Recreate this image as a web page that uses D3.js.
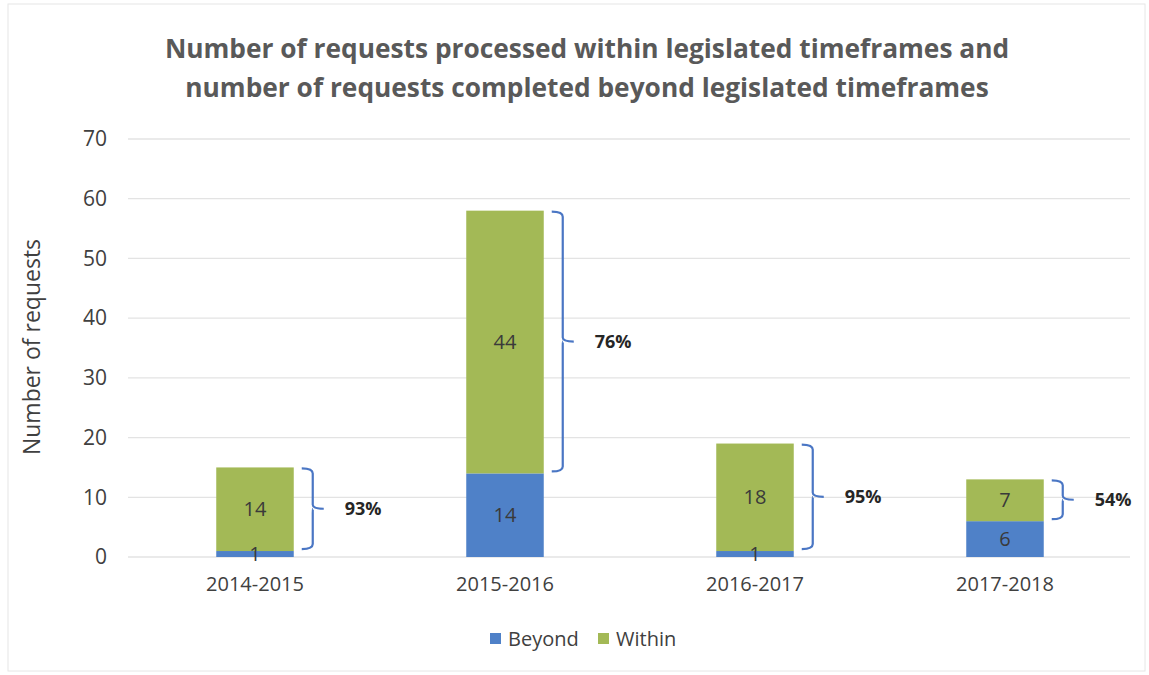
<!DOCTYPE html>
<html>
<head>
<meta charset="utf-8">
<script src="https://cdn.jsdelivr.net/npm/d3@7"></script>
<style>
body { margin: 0; background: #fff; }
text { font-family: "Open Sans", "Noto Sans", sans-serif; }
</style>
</head>
<body>
<svg width="1149" height="675"></svg>
<script>
var years = ["2014-2015", "2015-2016", "2016-2017", "2017-2018"];
var beyond = [1, 14, 1, 6];
var within = [14, 44, 18, 7];
var pctLabels = ["93%", "76%", "95%", "54%"];
var yTicks = [0, 10, 20, 30, 40, 50, 60, 70];
var seriesNames = ["Beyond", "Within"];
var colors = ["#4f81c8", "#a3b956"];

var svg = d3.select("svg"),
  width = +svg.attr("width"),
  height = +svg.attr("height");

// faint frame from the scan
svg.append("rect")
  .attr("x", 8).attr("y", 4)
  .attr("width", width - 12).attr("height", height - 8)
  .attr("fill", "none")
  .attr("stroke", "#e6e6e6");

var x = d3.scaleBand()
  .domain(years)
  .range([130, 1130])
  .paddingInner(0.69)
  .paddingOuter(0.345);

var y = d3.scaleLinear()
  .domain([0, 70])
  .range([557, 139]);

// gridlines
svg.append("g")
  .selectAll("line")
  .data(yTicks)
  .enter().append("line")
  .attr("x1", 128).attr("x2", 1130)
  .attr("y1", function(d) { return y(d); })
  .attr("y2", function(d) { return y(d); })
  .attr("stroke", "#e3e3e3")
  .attr("stroke-width", 1.3);

// y axis labels
var yAxis = d3.axisLeft(y).tickValues(yTicks).tickSize(0).tickPadding(0);
svg.append("g")
  .attr("transform", "translate(107,0)")
  .call(yAxis)
  .call(function(g) { g.select(".domain").remove(); })
  .selectAll("text")
  .attr("font-size", 21)
  .attr("fill", "#404040")
  .style("font-family", "'Open Sans', sans-serif");

svg.append("text")
  .attr("transform", "translate(40,347) rotate(-90)")
  .attr("text-anchor", "middle")
  .attr("font-size", 23)
  .attr("fill", "#404040")
  .text("Number of requests");

// x axis labels
var xAxis = d3.axisBottom(x).tickSize(0).tickPadding(0);
svg.append("g")
  .attr("transform", "translate(0,577)")
  .call(xAxis)
  .call(function(g) { g.select(".domain").remove(); })
  .selectAll("text")
  .attr("font-size", 20)
  .attr("fill", "#404040")
  .style("font-family", "'Open Sans', sans-serif");

// stacked bars
var rows = years.map(function(yr, i) {
  return { year: yr, Beyond: beyond[i], Within: within[i] };
});
var stack = d3.stack().keys(seriesNames)(rows);

var layer = svg.selectAll(".layer")
  .data(stack)
  .enter().append("g")
  .attr("class", "layer")
  .attr("fill", function(d, i) { return colors[i]; });

layer.selectAll("rect")
  .data(function(d) { return d; })
  .enter().append("rect")
  .attr("x", function(d) { return x(d.data.year); })
  .attr("y", function(d) { return y(d[1]); })
  .attr("width", x.bandwidth())
  .attr("height", function(d) { return y(d[0]) - y(d[1]); });

// value labels drawn over all the bars
var labels = svg.append("g");
stack.forEach(function(s) {
  labels.selectAll(null)
    .data(s)
    .enter().append("text")
    .attr("x", function(d) { return x(d.data.year) + x.bandwidth() / 2; })
    .attr("y", function(d) { return y((d[0] + d[1]) / 2); })
    .attr("dy", "0.35em")
    .attr("text-anchor", "middle")
    .attr("font-size", 20)
    .attr("fill", "#3a3a3a")
    .text(function(d) { return d[1] - d[0]; });
});

// braces with percentages
var brace = svg.append("g");
years.forEach(function(yr, i) {
  var bx = x(yr) + x.bandwidth();
  var top = y(beyond[i] + within[i]) + 1;
  var bot = y(beyond[i]) - 2;
  var mid = (top + bot) / 2;
  var x0 = bx + 8, x1 = bx + 19, x2 = bx + 30;
  var p = d3.path();
  p.moveTo(x0, top);
  p.quadraticCurveTo(x1, top, x1, top + 5);
  p.lineTo(x1, mid - 4);
  p.quadraticCurveTo(x1, mid, x2, mid);
  p.moveTo(x1 + 0.1, mid);
  p.quadraticCurveTo(x1, mid, x1, mid + 4);
  p.lineTo(x1, bot - 5);
  p.quadraticCurveTo(x1, bot, x0, bot);
  brace.append("path")
    .attr("d", p.toString())
    .attr("fill", "none")
    .attr("stroke", "#4a76c4")
    .attr("stroke-width", 2.2);
  brace.append("text")
    .attr("x", bx + 51)
    .attr("y", mid)
    .attr("dy", "0.35em")
    .attr("font-size", 18)
    .attr("font-weight", "bold")
    .attr("fill", "#262626")
    .text(pctLabels[i]);
});

// title
var title = svg.append("text")
  .attr("text-anchor", "middle")
  .attr("font-size", 26.3)
  .attr("font-weight", "bold")
  .attr("fill", "#595959");
title.append("tspan").attr("x", 587).attr("y", 58)
  .text("Number of requests processed within legislated timeframes and");
title.append("tspan").attr("x", 587).attr("y", 97)
  .text("number of requests completed beyond legislated timeframes");

// legend
var legend = svg.append("g").attr("transform", "translate(490,639)");
var lx = [0, 108];
seriesNames.forEach(function(name, i) {
  var g = legend.append("g").attr("transform", "translate(" + lx[i] + ",0)");
  g.append("rect")
    .attr("x", 0).attr("y", -6)
    .attr("width", 11).attr("height", 11)
    .attr("fill", colors[i]);
  g.append("text")
    .attr("x", 18).attr("y", 0)
    .attr("dy", "0.35em")
    .attr("font-size", 20)
    .attr("fill", "#404040")
    .text(name);
});
</script>
</body>
</html>
